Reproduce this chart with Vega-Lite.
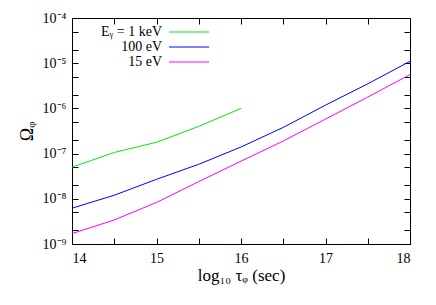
{
  "$schema": "https://vega.github.io/schema/vega-lite/v6.json",
  "autosize": "none",
  "width": 338,
  "height": 226,
  "padding": {"left": 72, "top": 18, "right": 26, "bottom": 61},
  "background": "white",
  "config": {
    "view": {"stroke": null},
    "font": "Liberation Serif",
    "axis": {
      "labelFont": "Liberation Serif",
      "labelFontSize": 14,
      "labelColor": "black",
      "titleFont": "Liberation Serif",
      "titleFontWeight": "normal",
      "titleColor": "black",
      "domainColor": "black",
      "domainWidth": 1,
      "ticks": true,
      "tickColor": "black",
      "tickWidth": 1,
      "grid": false,
      "zindex": 1
    },
    "legend": {
      "labelFont": "Liberation Serif",
      "labelFontSize": 14,
      "labelColor": "black"
    }
  },
  "data": {
    "values": [
      {"series": "Eᵧ = 1 keV", "x": 14, "y": 5.0e-8},
      {"series": "Eᵧ = 1 keV", "x": 14.5, "y": 1.06e-7},
      {"series": "Eᵧ = 1 keV", "x": 15, "y": 1.78e-7},
      {"series": "Eᵧ = 1 keV", "x": 15.5, "y": 4.0e-7},
      {"series": "Eᵧ = 1 keV", "x": 16, "y": 1.0e-6},
      {"series": "100 eV", "x": 14, "y": 6.2e-9},
      {"series": "100 eV", "x": 14.5, "y": 1.2e-8},
      {"series": "100 eV", "x": 15, "y": 2.7e-8},
      {"series": "100 eV", "x": 15.5, "y": 5.8e-8},
      {"series": "100 eV", "x": 16, "y": 1.4e-7},
      {"series": "100 eV", "x": 16.5, "y": 3.8e-7},
      {"series": "100 eV", "x": 17, "y": 1.18e-6},
      {"series": "100 eV", "x": 17.5, "y": 3.5e-6},
      {"series": "100 eV", "x": 18, "y": 1.1e-5},
      {"series": "15 eV", "x": 14, "y": 1.7e-9},
      {"series": "15 eV", "x": 14.5, "y": 3.4e-9},
      {"series": "15 eV", "x": 15, "y": 8.3e-9},
      {"series": "15 eV", "x": 15.5, "y": 2.4e-8},
      {"series": "15 eV", "x": 16, "y": 6.8e-8},
      {"series": "15 eV", "x": 16.5, "y": 1.9e-7},
      {"series": "15 eV", "x": 17, "y": 5.8e-7},
      {"series": "15 eV", "x": 17.5, "y": 1.78e-6},
      {"series": "15 eV", "x": 18, "y": 5.6e-6}
    ]
  },
  "layer": [
    {
      "mark": {"type": "line", "strokeWidth": 1, "clip": true},
      "encoding": {
        "x": {
          "field": "x", "type": "quantitative",
          "scale": {"domain": [14, 18], "nice": false, "zero": false},
          "axis": {
            "orient": "bottom",
            "values": [14, 14.5, 15, 15.5, 16, 16.5, 17, 17.5, 18],
            "labelExpr": "datum.value % 1 == 0 ? format(datum.value, 'd') : ''",
            "labelFont": "Liberation Serif",
            "ticks": true,
            "tickSize": -6,
            "labelPadding": 13,
            "title": "log₁₀ τᵩ (sec)",
            "titleFont": "Liberation Serif",
            "titleFontSize": 17,
            "titlePadding": 2
          }
        },
        "y": {
          "field": "y", "type": "quantitative",
          "scale": {"type": "log", "domain": [1e-9, 1e-4], "nice": false},
          "axis": {
            "orient": "left",
            "values": [1e-9, 2e-9, 5e-9, 1e-8, 2e-8, 5e-8, 1e-7, 2e-7, 5e-7, 1e-6, 2e-6, 5e-6, 1e-5, 2e-5, 5e-5, 1e-4],
            "labelExpr": "abs(log(datum.value)/LN10 - round(log(datum.value)/LN10)) > 0.001 ? '' : '10' + ['⁻⁹','⁻⁸','⁻⁷','⁻⁶','⁻⁵','⁻⁴'][round(log(datum.value)/LN10) + 9]",
            "labelFont": "Liberation Serif",
            "ticks": true,
            "tickSize": -6,
            "labelPadding": 12,
            "title": "Ωᵩ",
            "titleFont": "Liberation Serif",
            "titleFontSize": 18,
            "titlePadding": 6
          }
        },
        "color": {
          "field": "series", "type": "nominal",
          "scale": {"domain": ["Eᵧ = 1 keV", "100 eV", "15 eV"], "range": ["#00ee00", "#0000ff", "#ff00ff"]},
          "legend": {
            "orient": "none",
            "legendX": 110,
            "legendY": 7,
            "title": null,
            "symbolType": "M-5,0H5",
            "symbolSize": 64,
            "symbolStrokeWidth": 1.2,
            "labelAlign": "right",
            "labelOffset": -34,
            "labelFont": "Liberation Serif",
            "rowPadding": 1,
            "padding": 0
          }
        }
      }
    },
    {
      "mark": {"type": "line", "opacity": 0},
      "encoding": {
        "x": {
          "field": "x", "type": "quantitative",
          "axis": {
            "orient": "top",
            "values": [14, 14.5, 15, 15.5, 16, 16.5, 17, 17.5, 18],
            "labels": false,
            "title": null,
            "ticks": true,
            "tickSize": -6
          }
        },
        "y": {
          "field": "y", "type": "quantitative",
          "axis": {
            "orient": "right",
            "values": [1e-9, 2e-9, 5e-9, 1e-8, 2e-8, 5e-8, 1e-7, 2e-7, 5e-7, 1e-6, 2e-6, 5e-6, 1e-5, 2e-5, 5e-5, 1e-4],
            "labels": false,
            "title": null,
            "ticks": true,
            "tickSize": -6
          }
        },
        "detail": {"field": "series"}
      }
    }
  ],
  "resolve": {"axis": {"x": "independent", "y": "independent"}}
}
